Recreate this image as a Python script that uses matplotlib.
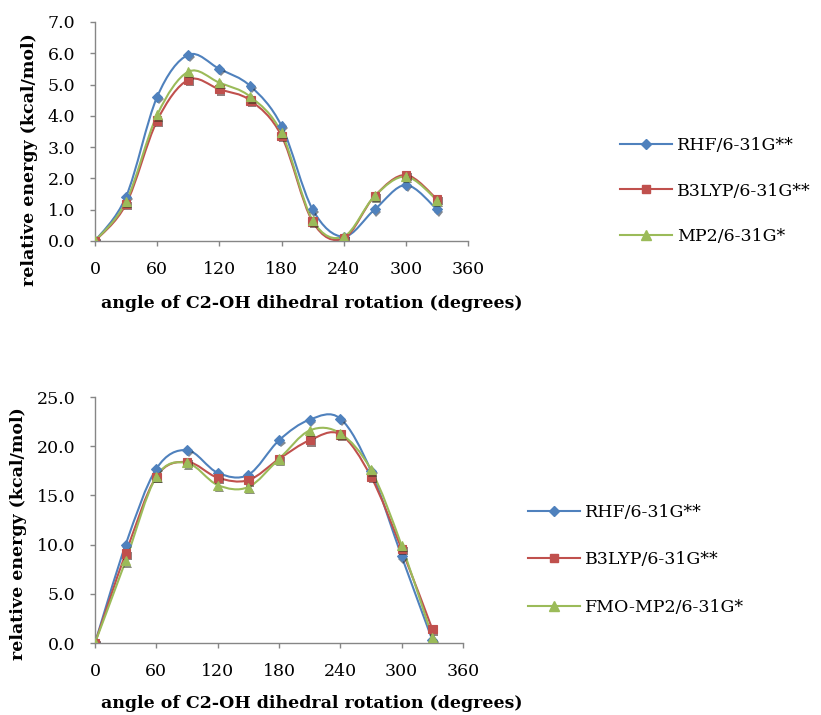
import matplotlib
matplotlib.use("Agg")
import matplotlib.pyplot as plt
import matplotlib.patheffects as pe
from matplotlib.path import Path
from matplotlib.patches import PathPatch
from matplotlib.lines import Line2D
import numpy as np

angles = [0, 30, 60, 90, 120, 150, 180, 210, 240, 270, 300, 330]

# top panel (kcal/mol)
top_rhf = [0.0, 1.42, 4.61, 5.95, 5.50, 4.95, 3.68, 1.01, 0.14, 1.01, 1.79, 1.01]
top_b3lyp = [0.0, 1.18, 3.85, 5.15, 4.85, 4.49, 3.36, 0.62, 0.08, 1.44, 2.11, 1.34]
top_mp2 = [0.0, 1.26, 4.03, 5.41, 5.06, 4.61, 3.46, 0.67, 0.14, 1.44, 2.06, 1.31]
top_names = ["RHF/6-31G**", "B3LYP/6-31G**", "MP2/6-31G*"]

# bottom panel (kcal/mol)
bot_rhf = [0.0, 10.0, 17.7, 19.6, 17.3, 17.1, 20.6, 22.7, 22.8, 17.5, 8.8, 0.3]
bot_b3lyp = [0.0, 9.1, 16.9, 18.4, 16.8, 16.55, 18.7, 20.6, 21.2, 16.9, 9.55, 1.4]
bot_mp2 = [0.0, 8.35, 16.9, 18.3, 16.05, 15.85, 18.7, 21.6, 21.3, 17.6, 9.9, 0.6]
bot_names = ["RHF/6-31G**", "B3LYP/6-31G**", "FMO-MP2/6-31G*"]

colors = ["#4F81BD", "#C0504D", "#9BBB59"]
markers = ["D", "s", "^"]
msizes = [5, 6, 6.5]
grey = "#868686"
serif = "DejaVu Serif"


def smooth_path(x, y):
    # Excel style smoothed line: Catmull-Rom turned into cubic Bezier segments
    pts = np.column_stack([x, y]).astype(float)
    p = np.vstack([pts[0], pts, pts[-1]])
    verts = [pts[0]]
    codes = [Path.MOVETO]
    for i in range(1, len(p) - 2):
        c1 = p[i] + (p[i + 1] - p[i - 1]) / 6
        c2 = p[i + 1] - (p[i + 2] - p[i]) / 6
        verts += [c1, c2, p[i + 1]]
        codes += [Path.CURVE4] * 3
    return Path(verts, codes)


def draw_panel(ax, series, ymax, ystep):
    for vals, c, m, ms in zip(series, colors, markers, msizes):
        ax.add_patch(PathPatch(smooth_path(angles, vals), fill=False,
                               edgecolor=c, lw=1.5, zorder=2))
        ax.plot(angles, vals, ls="none", marker=m, ms=ms, mfc=c, mec=c,
                mew=0.8, zorder=3,
                path_effects=[pe.SimplePatchShadow(offset=(1.2, -1.6), alpha=0.55),
                              pe.Normal()])
    ax.set_xlim(0, 360)
    ax.set_ylim(0, ymax)
    ax.set_xticks(range(0, 361, 60))
    ticks = np.arange(0, ymax + 0.01, ystep)
    ax.set_yticks(ticks)
    ax.set_yticklabels([f"{v:.1f}" for v in ticks])
    for s in ["top", "right"]:
        ax.spines[s].set_visible(False)
    for s in ["left", "bottom"]:
        ax.spines[s].set_color(grey)
        ax.spines[s].set_linewidth(1.0)
    ax.tick_params(direction="out", color=grey, length=3.6, width=1.0,
                   labelsize=12.5, pad=10.5)
    for lab in ax.get_xticklabels() + ax.get_yticklabels():
        lab.set_family(serif)
    ax.set_xlabel("angle of C2-OH dihedral rotation (degrees)",
                  family=serif, fontweight="bold", fontsize=12.5)
    ax.set_ylabel("relative energy (kcal/mol)",
                  family=serif, fontweight="bold", fontsize=12.5)
    handles = [Line2D([], [], color=c, lw=1.5, marker=m, ms=ms, mfc=c, mec=c)
               for c, m, ms in zip(colors, markers, msizes)]
    return handles


fig = plt.figure(figsize=(8.21, 7.15), dpi=100)
W, H = 821, 715

ax1 = fig.add_axes([95 / W, 1 - 241 / H, (468 - 95) / W, (241 - 22) / H])
h1 = draw_panel(ax1, [top_rhf, top_b3lyp, top_mp2], 7.0, 1.0)
ax1.xaxis.set_label_coords(0.58, -0.245)
ax1.yaxis.set_label_coords(-0.153, 0.37)
ax1.legend(h1, top_names, loc="center left", bbox_to_anchor=(620 / W, 1 - 191 / H),
           bbox_transform=fig.transFigure, frameon=False, handlelength=3.0,
           handletextpad=0.3, borderpad=0, borderaxespad=0,
           labelspacing=1.65, prop={"family": serif, "size": 12.5})

ax2 = fig.add_axes([95 / W, 1 - 643 / H, (463 - 95) / W, (643 - 397) / H])
h2 = draw_panel(ax2, [bot_rhf, bot_b3lyp, bot_mp2], 25.0, 5.0)
ax2.xaxis.set_label_coords(0.59, -0.21)
ax2.yaxis.set_label_coords(-0.185, 0.443)
ax2.legend(h2, bot_names, loc="center left", bbox_to_anchor=(528 / W, 1 - 560 / H),
           bbox_transform=fig.transFigure, frameon=False, handlelength=3.0,
           handletextpad=0.3, borderpad=0, borderaxespad=0,
           labelspacing=1.75, prop={"family": serif, "size": 12.5})

fig.savefig("out.png", dpi=100)
